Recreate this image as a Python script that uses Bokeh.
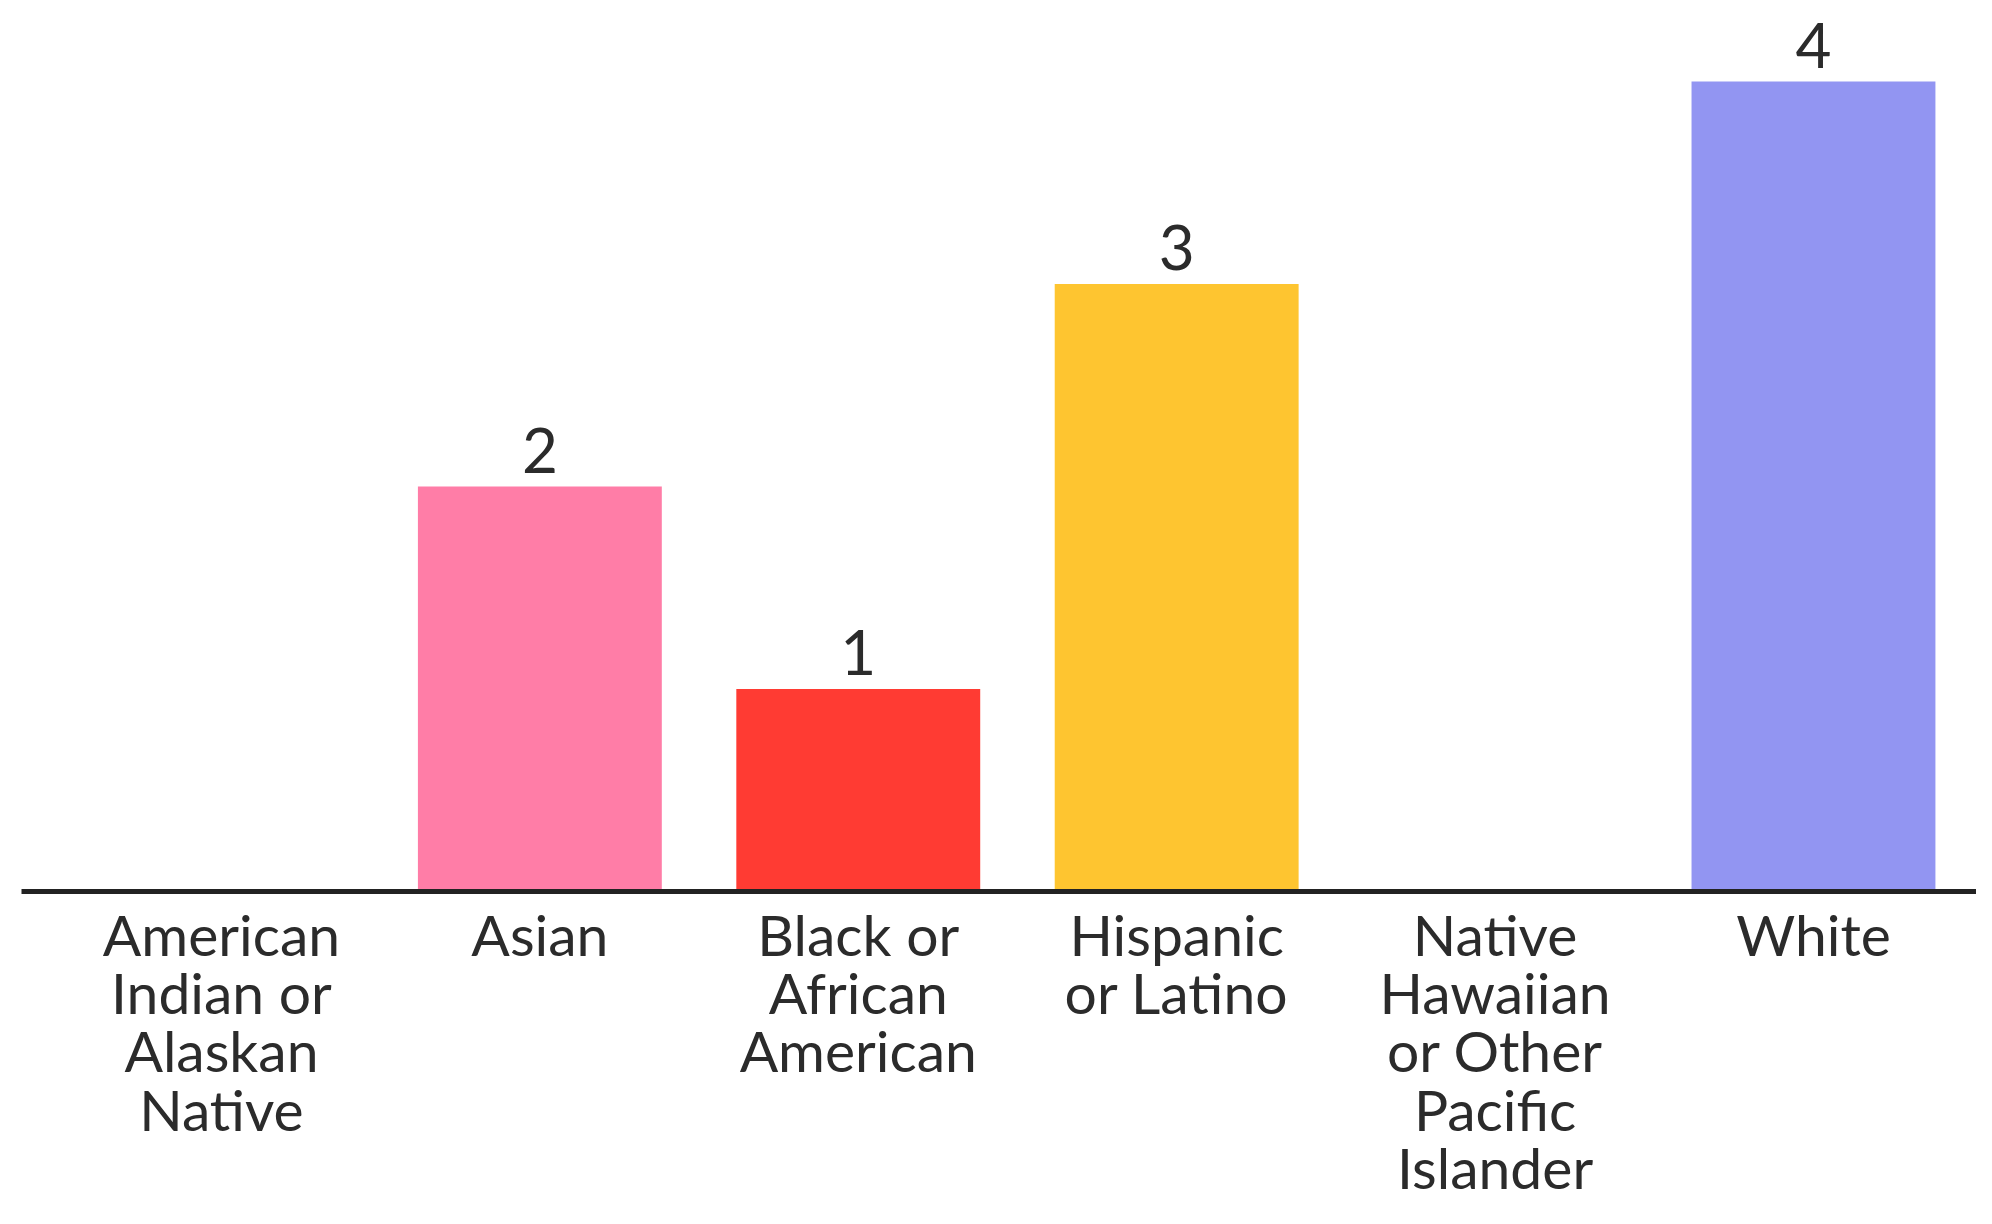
from bokeh.plotting import figure
from bokeh.models import Range1d, FixedTicker
from bokeh.core.properties import value
from bokeh.embed import file_html
from bokeh.resources import INLINE

categories = ["American\nIndian or\nAlaskan\nNative", "Asian", "Black or\nAfrican\nAmerican",
              "Hispanic\nor Latino", "Native\nHawaiian\nor Other\nPacific\nIslander", "White"]
counts = [0, 2, 1, 3, 0, 4]
colors = ["#FFFFFF", "#FF7DA7", "#FF3B33", "#FEC530", "#FFFFFF", "#9295F2"]
labels = ["", "2", "1", "3", "", "4"]

idx = list(range(len(categories)))

FONT = "Lato"

p = figure(width=1976, height=1208, output_backend="svg", toolbar_location=None,
           x_range=Range1d(-0.628, 5.512), y_range=Range1d(0, 4.40),
           y_axis_location=None, min_border_left=21, min_border_right=0,
           min_border_top=0, min_border_bottom=317)
p.outline_line_color = None
p.grid.visible = False
p.background_fill_color = "white"

bars = [i for i, c in enumerate(counts) if c > 0]
p.vbar(x=[idx[i] for i in bars], top=[counts[i] for i in bars], width=0.766,
       color=[colors[i] for i in bars], line_color=None)

p.text(x=[idx[i] for i in bars], y=[counts[i] for i in bars], text=[labels[i] for i in bars],
       text_align="center", text_baseline="bottom", y_offset=-14,
       text_font=value(FONT), text_font_size="62px", text_color="#2b2b2b")

ax = p.xaxis[0]
ax.ticker = FixedTicker(ticks=idx)
ax.major_label_overrides = {i: c for i, c in zip(idx, categories)}
ax.major_label_text_font = FONT
ax.major_label_text_font_size = "57px"
ax.major_label_text_line_height = 0.86
ax.major_label_text_color = "#2b2b2b"
ax.major_label_standoff = 2
ax.major_tick_line_color = None
ax.minor_tick_line_color = None
ax.axis_line_width = 5
ax.axis_line_color = "#222222"

open("out.html", "w").write(file_html(p, INLINE))
